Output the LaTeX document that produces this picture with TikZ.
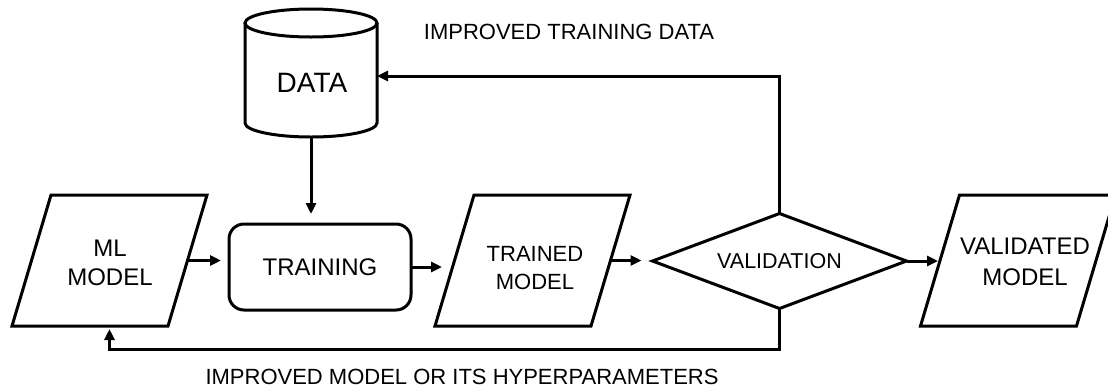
\documentclass[tikz,border=0pt]{standalone}
\usepackage{fontspec}
\setmainfont{Liberation Sans}
\usetikzlibrary{arrows.meta,calc}
\begin{document}
\begin{tikzpicture}[x=1pt,y=1pt,
  outl/.style={line width=3pt, line join=miter},
  box/.style={inner sep=0pt, outer sep=0pt, draw=none},
  arr/.style={line width=3pt, -{Triangle[length=11pt,width=10pt]}},
  lbl/.style={inner sep=0pt, font=\fontsize{22}{26}\selectfont},
  txt/.style={inner sep=0pt, align=center}]
\useasboundingbox (0,0) rectangle (1108,-389);

% DATA cylinder
\node[box, minimum width=132pt, minimum height=100pt] (data) at (311,-73) {};
\draw[outl] (data.north west) -- (data.south west)
   arc[start angle=180, end angle=360, x radius=66pt, y radius=14pt] -- (data.north east);
\draw[outl] (data.north) ellipse[x radius=66pt, y radius=14pt];
\node[txt, font=\fontsize{28}{32}\selectfont] (datat) at (312,-83) {DATA};

% ML MODEL
\node[box, minimum width=156pt, minimum height=131pt] (ml) at (109.5,-260.5) {};
\draw[outl] ([xshift=-19.5pt]ml.south west) -- ([xshift=-19.5pt]ml.south east)
   -- ([xshift=19.5pt]ml.north east) -- ([xshift=19.5pt]ml.north west) -- cycle;
\node[txt, font=\fontsize{24}{29}\selectfont] (mlt) at (110,-262.5) {ML\\MODEL};

% TRAINING
\node[draw, line width=3pt, rounded corners=15pt, minimum width=182pt, minimum height=86pt,
      inner sep=0pt, outer sep=0pt, font=\fontsize{24}{29}\selectfont] (train) at (320,-267) {TRAINING};

% TRAINED MODEL
\node[box, minimum width=156pt, minimum height=131pt] (tm) at (532.5,-260.5) {};
\draw[outl] ([xshift=-19.5pt]tm.south west) -- ([xshift=-19.5pt]tm.south east)
   -- ([xshift=19.5pt]tm.north east) -- ([xshift=19.5pt]tm.north west) -- cycle;
\node[txt, font=\fontsize{22}{28}\selectfont] (tmt) at (535,-268) {TRAINED\\MODEL};

% VALIDATION
\node[box, minimum width=254pt, minimum height=95pt, font=\fontsize{21.5}{26}\selectfont] (val) at (779.5,-261) {VALIDATION};
\draw[outl] (val.west) -- (val.north) -- (val.east) -- (val.south) -- cycle;

% VALIDATED MODEL
\node[box, minimum width=156pt, minimum height=131pt] (vm) at (1018,-260.5) {};
\draw[outl] ([xshift=-19.5pt]vm.south west) -- ([xshift=-19.5pt]vm.south east)
   -- ([xshift=19.5pt]vm.north east) -- ([xshift=19.5pt]vm.north west) -- cycle;
\node[txt, font=\fontsize{24}{31}\selectfont] (vmt) at (1025,-261.5) {VALIDATED\\MODEL};

% connectors
\draw[arr, shorten >=10pt] ([yshift=-14pt]data.south) -- (data.south |- train.north);
\draw[arr, shorten >=8pt] (ml.east) -- (ml.east -| train.west);
\draw[arr, shorten >=12.5pt] (train.east) -- (train.east -| tm.west);
\draw[arr, shorten >=11pt] (tm.east) -- (tm.east -| val.west);
\draw[arr, shorten >=2pt] (val.east) -- (val.east -| vm.west);
\draw[arr] (val.north) |- ([yshift=-3pt]data.east);
\draw[arr, shorten >=3pt] (val.south) -- ++(0,-41) -| (ml.south);

% labels
\node[lbl] (lbltop) at (569,-32) {IMPROVED TRAINING DATA};
\node[lbl] (lblbot) at (462,-377) {IMPROVED MODEL OR ITS HYPERPARAMETERS};
\end{tikzpicture}
\end{document}
